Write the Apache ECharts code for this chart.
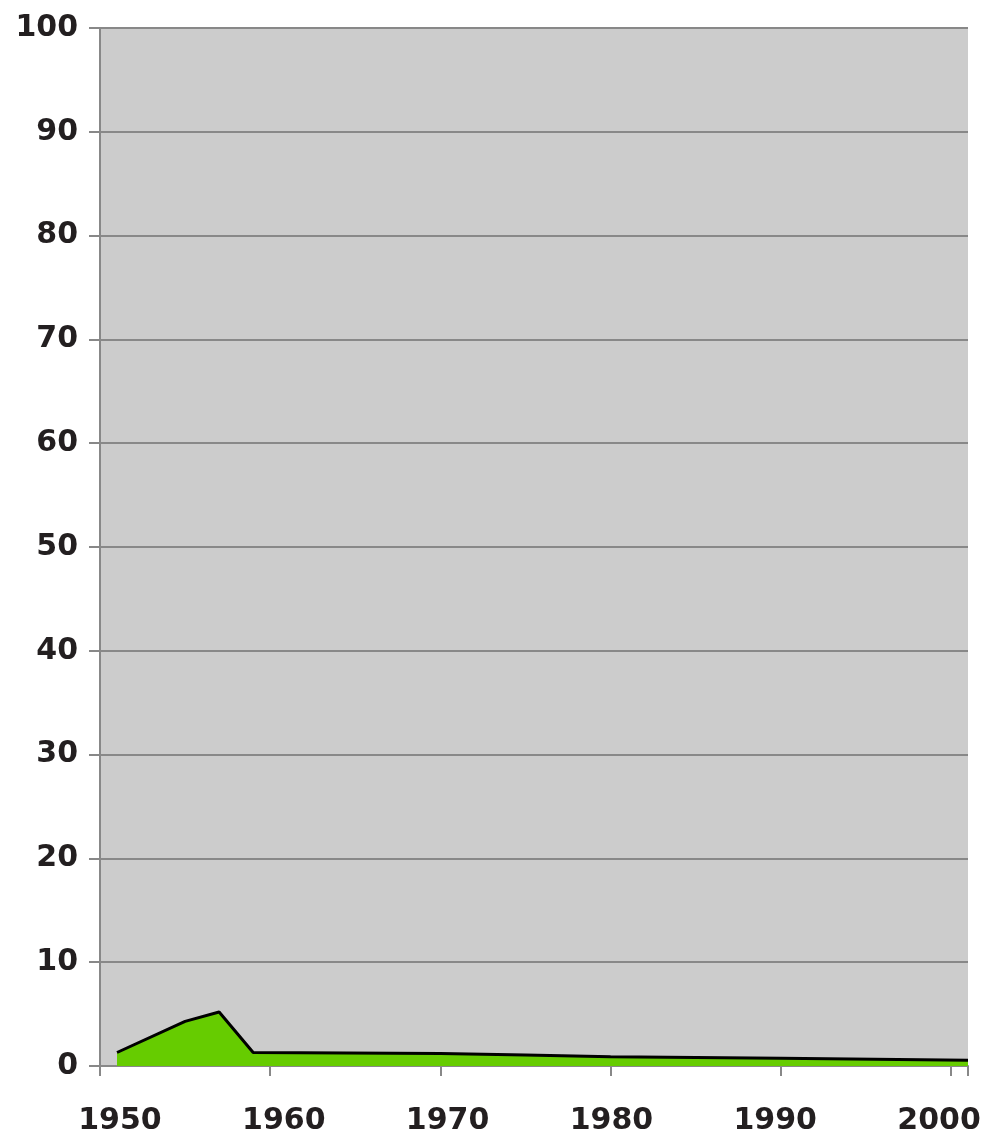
<!DOCTYPE html>
<html>
<head>
<meta charset="utf-8">
<script src="https://cdn.jsdelivr.net/npm/echarts@6/dist/echarts.min.js"></script>
<style>
  html, body { margin: 0; padding: 0; background: #fff; }
  #chart { width: 993px; height: 1138px; }
</style>
</head>
<body>
<div id="chart"></div>
<script>
const years = [1951, 1955, 1957, 1959, 1970, 1975, 1980, 1990, 2001];
const values = [1.3, 4.3, 5.2, 1.3, 1.2, 1.05, 0.9, 0.75, 0.55];
const yearLabels = [1950, 1960, 1970, 1980, 1990, 2000];

const chart = echarts.init(document.getElementById("chart"));
const labelFont = {
  fontFamily: "DejaVu Sans",
  fontWeight: "bold",
  fontSize: 30,
  color: "#231f20",
};
const option = {
  animation: false,
  grid: {
    left: 100,
    right: 25,
    top: 28,
    bottom: 72,
    show: true,
    backgroundColor: "#cccccc",
    borderWidth: 0,
  },
  xAxis: [
    {
      type: "value",
      min: 1950,
      max: 2001,
      interval: 10,
      axisLine: { show: true, onZero: false, lineStyle: { color: "#888888", width: 2 } },
      axisTick: { show: true, length: 10, lineStyle: { color: "#888888", width: 2 } },
      axisLabel: { show: false },
      splitLine: { show: false },
    },
    {
      // labels only, spaced slightly tighter than the ticks as in the picture
      type: "value",
      position: "bottom",
      min: 1948.78,
      max: 2001.77,
      axisLine: { show: false },
      axisTick: { show: false },
      splitLine: { show: false },
      axisLabel: {
        ...labelFont,
        margin: 40,
        customValues: yearLabels,
        formatter: (v) => String(Math.round(v)),
      },
    },
  ],
  yAxis: {
    type: "value",
    min: 0,
    max: 100,
    interval: 10,
    axisLine: { show: true, lineStyle: { color: "#888888", width: 2 } },
    axisTick: { show: true, length: 11, lineStyle: { color: "#888888", width: 2 } },
    axisLabel: { ...labelFont, margin: 22 },
    splitLine: { show: true, lineStyle: { color: "#888888", width: 2 } },
  },
  series: [
    {
      type: "line",
      xAxisIndex: 0,
      data: years.map((y, i) => [y, values[i]]),
      symbol: "none",
      lineStyle: { color: "#000000", width: 3 },
      areaStyle: { color: "#66cc00", opacity: 1 },
    },
  ],
};
chart.setOption(option);
</script>
</body>
</html>
